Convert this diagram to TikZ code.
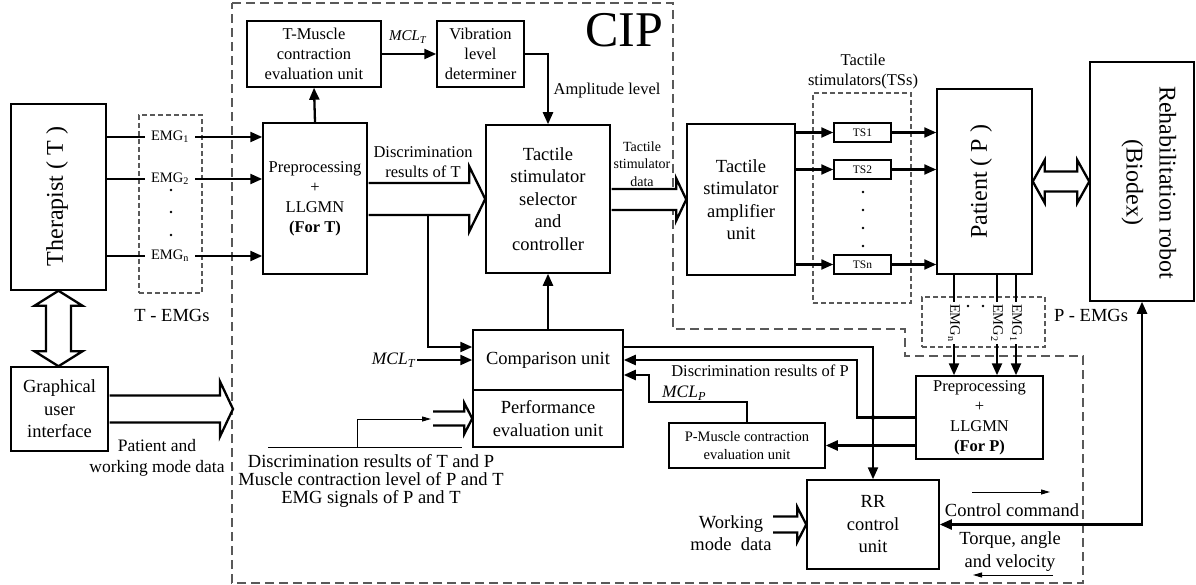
\documentclass[tikz,border=0pt]{standalone}
\usepackage{fontspec}
\setmainfont{Liberation Serif}
\usetikzlibrary{arrows.meta,calc}
\newcommand{\fsA}{\fontsize{16.5}{20}\selectfont}
\newcommand{\fsB}{\fontsize{18.5}{22.5}\selectfont}
\newcommand{\fsC}{\fontsize{24}{33}\selectfont}
\newcommand{\fsD}{\fontsize{14.5}{17.5}\selectfont}
\newcommand{\fsE}{\fontsize{11.5}{14}\selectfont}
\newcommand{\fsF}{\fontsize{17.5}{21}\selectfont}
% hollow arrow to the right: #1 start, #2 tip, #3 shaft half, #4 head half, #5 head length
\newcommand{\hArrowR}[5]{%
\draw[hollow] let \p1=(#1), \p2=(#2) in (\x1,\y2+#3pt) -- (\x2-#5pt,\y2+#3pt) -- (\x2-#5pt,\y2+#4pt) -- (\x2,\y2) -- (\x2-#5pt,\y2-#4pt) -- (\x2-#5pt,\y2-#3pt) -- (\x1,\y2-#3pt);}
% double hollow arrow, horizontal
\newcommand{\hArrowLR}[5]{%
\draw[hollow] let \p1=(#1), \p2=(#2) in (\x1,\y1) -- (\x1+#5pt,\y1+#4pt) -- (\x1+#5pt,\y1+#3pt) -- (\x2-#5pt,\y1+#3pt) -- (\x2-#5pt,\y1+#4pt) -- (\x2,\y1) -- (\x2-#5pt,\y1-#4pt) -- (\x2-#5pt,\y1-#3pt) -- (\x1+#5pt,\y1-#3pt) -- (\x1+#5pt,\y1-#4pt) -- cycle;}
% double hollow arrow, vertical (#1 top, #2 bottom)
\newcommand{\hArrowUD}[5]{%
\draw[hollow] let \p1=(#1), \p2=(#2) in (\x1,\y1) -- (\x1+#4pt,\y1-#5pt) -- (\x1+#3pt,\y1-#5pt) -- (\x1+#3pt,\y2+#5pt) -- (\x1+#4pt,\y2+#5pt) -- (\x1,\y2) -- (\x1-#4pt,\y2+#5pt) -- (\x1-#3pt,\y2+#5pt) -- (\x1-#3pt,\y1-#5pt) -- (\x1-#4pt,\y1-#5pt) -- cycle;}
\begin{document}
\begin{tikzpicture}[x=1pt,y=-1pt,
  box/.style={draw, line width=1.5pt, inner sep=0pt, align=center},
  dbox/.style={draw=black!65, dash pattern=on 5pt off 3pt, line width=1.1pt, inner sep=0pt},
  cipb/.style={draw=black!65, dash pattern=on 9pt off 5pt, line width=1.2pt},
  conn/.style={line width=2.3pt, -{Triangle[length=12pt,width=10pt]}},
  plain/.style={line width=2.3pt},
  hollow/.style={draw, line width=2.3pt, fill=white, line join=miter},
  thinarrow/.style={line width=1pt, -{Triangle[length=9pt,width=5pt]}},
  lbl/.style={inner sep=1pt, align=center}]
\useasboundingbox (0,0) rectangle (1196,585);
% CIP region
\draw[cipb] (232,3) -- (673,3) -- (673,329) -- (905,329) -- (905,356) -- (1083,356) -- (1083,583) -- (232,583) -- cycle;
\node[font=\fontsize{50}{50}\selectfont, inner sep=0pt] (cip) at (624,30) {CIP};
% dashed groups
\node[dbox, minimum width=63pt, minimum height=178pt] (temg) at (170.5,204) {};
\node[dbox, minimum width=98pt, minimum height=210pt] (tss) at (862,198) {};
\node[dbox, minimum width=123pt, minimum height=50pt] (pemg) at (983.5,322) {};
% boxes
\node[box, minimum width=95pt, minimum height=186pt] (ther) at (58.5,197) {};
\node[rotate=90, font=\fsC, inner sep=0pt] (thertxt) at (57,196.5) {Therapist ( T )};
\node[box, minimum width=97pt, minimum height=84pt, font=\fsB] (gui) at (59.5,409) {Graphical\\user\\interface};
\node[box, minimum width=104pt, minimum height=151pt, font=\fsA] (preT) at (315,198.5) {Preprocessing\\+\\LLGMN\\\textbf{(For T)}};
\node[box, minimum width=134pt, minimum height=66pt, font=\fsA] (tmus) at (314,54) {T-Muscle\\contraction\\evaluation unit};
\node[box, minimum width=87pt, minimum height=66pt, font=\fsA] (vib) at (480.5,54) {Vibration\\level\\determiner};
\node[box, minimum width=124pt, minimum height=148pt, font=\fsB] (sel) at (548,199) {Tactile\\stimulator\\selector\\and\\controller};
\node[box, minimum width=108pt, minimum height=151pt, font=\fsB] (amp) at (741,199.5) {Tactile\\stimulator\\amplifier\\unit};
\node[box, minimum width=57pt, minimum height=19pt, font=\fsE] (ts1) at (862.5,132.5) {TS1};
\node[box, minimum width=57pt, minimum height=19pt, font=\fsE] (ts2) at (862.5,169.5) {TS2};
\node[box, minimum width=57pt, minimum height=19pt, font=\fsE] (tsn) at (862.5,264.5) {TSn};
\node[box, minimum width=95pt, minimum height=185pt] (pat) at (984.5,181.5) {};
\node[rotate=90, font=\fsC, inner sep=0pt] (pattxt) at (981,182) {Patient ( P )};
\node[box, minimum width=104pt, minimum height=239pt] (rob) at (1142,181.5) {};
\node[rotate=-90, font=\fsC, align=center, inner sep=0pt] (robtxt) at (1149,182.5) {Rehabilitation robot\\(Biodex)};
\node[box, minimum width=127pt, minimum height=83pt, font=\fsA] (preP) at (979.5,417.5) {Preprocessing\\+\\LLGMN\\\textbf{(For P)}};
\node[box, minimum width=150pt, minimum height=60pt, font=\fsB] (cmp) at (548,360) {Comparison unit};
\node[box, minimum width=150pt, minimum height=57pt, font=\fsB] (perf) at (548,418.5) {Performance\\evaluation unit};
\node[box, minimum width=156pt, minimum height=45pt, font=\fsD] (pmus) at (747,445.5) {P-Muscle contraction\\evaluation unit};
\node[box, minimum width=132pt, minimum height=89pt, font=\fsB] (rr) at (873,524.5) {RR\\control\\unit};
% T-EMG labels and lines
\node[font=\fsD, inner xsep=6pt, inner ysep=1pt] (e1) at (170,137) {EMG\textsubscript{1}};
\node[font=\fsD, inner xsep=6pt, inner ysep=1pt] (e2) at (170,179) {EMG\textsubscript{2}};
\node[font=\fsD, inner xsep=6pt, inner ysep=1pt] (etn) at (170,256) {EMG\textsubscript{n}};
\foreach \e in {e1,e2,etn}{
  \draw[plain] (ther.east |- \e.west) -- (\e.west);
  \draw[conn] (\e.east) -- (preT.west |- \e.east);
}
\foreach \yy in {190,212,235} \fill (171,\yy) circle (1.3pt);
\node[font=\fsB, lbl] (temglbl) at (172,315) {T - EMGs};
% top row
\draw[conn] (preT.north) -- (tmus.south);
\draw[conn] (tmus.east) -- (vib.west);
\node[font=\fontsize{15}{18}\selectfont, lbl] (mclt1) at (408,37) {\textit{MCL}\textsubscript{\textit{T}}};
\draw[conn] (vib.east) -| (sel.north);
\node[font=\fsA, lbl] (amplbl) at (607,91) {Amplitude level};
% discrimination results of T
\hArrowR{$(preT.east)+(0.8,0)$}{sel.west}{16}{32.5}{16}
\node[font=\fsA, lbl] (drt) at (423,162) {Discrimination\\results of T};
\coordinate (dj) at (428,215);
\draw[conn] (dj) |- ($(cmp.west)+(0,-13)$);
\node[font=\fsF, inner sep=1pt, anchor=east] (mclt2) at (417,360) {\textit{MCL}\textsubscript{\textit{T}}};
\draw[conn] (mclt2.east) -- (cmp.west);
\draw[conn] (cmp.north) -- (sel.south);
% tactile stimulator data
\hArrowR{$(sel.east)+(0.8,0)$}{amp.west}{10.5}{21}{10}
\node[font=\fontsize{14}{17.5}\selectfont, lbl] (tsd) at (642,164) {Tactile\\stimulator\\data};
% TS lines
\foreach \t in {ts1,ts2,tsn}{
  \draw[conn] (amp.east |- \t.west) -- (\t.west);
  \draw[conn] (\t.east) -- (pat.west |- \t.east);
}
\foreach \yy in {192,210,228,246} \fill (863,\yy) circle (1.3pt);
\node[font=\fsA, lbl] (tsslbl) at (863,72) {Tactile\\stimulators(TSs)};
% patient <-> robot
\hArrowLR{pat.east}{rob.west}{10}{21.5}{12}
% P-EMGs
\node[rotate=-90, font=\fsD, inner xsep=2pt, inner ysep=0pt] (pen) at (954,323) {EMG\textsubscript{n}};
\node[rotate=-90, font=\fsD, inner xsep=2pt, inner ysep=0pt] (pe2) at (997,323) {EMG\textsubscript{2}};
\node[rotate=-90, font=\fsD, inner xsep=2pt, inner ysep=0pt] (pe1) at (1016,323) {EMG\textsubscript{1}};
\foreach \e in {pen,pe2,pe1}{
  \draw[plain] (pat.south -| \e.west) -- (\e.west);
  \draw[conn] (\e.east) -- (preP.north -| \e.east);
}
\fill (968,306) circle (1.3pt);
\fill (983,306) circle (1.3pt);
\node[font=\fsB, lbl] (pemglbl) at (1091,315) {P - EMGs};
% discrimination results of P
\draw[conn] (preP.west) -- ++(-58,0) |- (cmp.east);
\node[font=\fsA, lbl] (drp) at (760,371) {Discrimination results of P};
\draw[conn] ($(cmp.east)+(0,-13)$) -| (rr.north);
\fill (873,417.5) circle (2.3pt);
\draw[conn] (preP.west |- pmus.east) -- (pmus.east);
\draw[conn] (pmus.north) |- (649,402) |- ($(cmp.east)+(0,15)$);
\node[font=\fsF, lbl] (mclp) at (684,393) {\textit{MCL}\textsubscript{\textit{P}}};
% therapist <-> GUI
\hArrowUD{ther.south}{ther.south |- gui.north}{12.5}{24}{15}
% GUI arrow
\coordinate (guitip) at (233,409);
\hArrowR{$(gui.east)+(0.8,0)$}{guitip}{13.5}{27.5}{13}
\node[font=\fsF, lbl] (pwm) at (157,457.5) {Patient and\\working mode data};
% performance evaluation input
\coordinate (perfin) at (433,419);
\hArrowR{perfin}{perf.west}{7}{15.5}{8}
\node[font=\fontsize{18.5}{18}\selectfont, lbl] (btxt) at (371,481) {Discrimination results of T and P\\Muscle contraction level of P and T\\EMG signals of P and T};
\coordinate (r1) at (268,447);
\coordinate (r2) at (462,447);
\coordinate (rm) at (357,447);
\draw[line width=1pt] (r1) -- (r2);
\draw[thinarrow] (rm) |- ($(perfin)+(-2,0)$);
% working mode data
\coordinate (wmin) at (773,524.5);
\hArrowR{wmin}{rr.west}{8}{17.5}{9}
\node[font=\fsB, lbl] (wmd) at (731,533) {Working\\mode~ data};
% RR <-> robot
\draw[line width=2.3pt, {Triangle[length=12pt,width=10pt]}-{Triangle[length=12pt,width=10pt]}] (rr.east) -| (rob.south);
\node[font=\fsB, lbl] (ccl) at (1012,510) {Control command};
\coordinate (cc1) at (972,492);
\coordinate (cc2) at (1050,492);
\draw[thinarrow] (cc1) -- (cc2);
\node[font=\fsB, lbl] (tqa) at (1010,551.5) {Torque, angle\\and velocity};
\coordinate (tq1) at (1053,575);
\coordinate (tq2) at (973,575);
\draw[thinarrow] (tq1) -- (tq2);
\end{tikzpicture}
\end{document}
